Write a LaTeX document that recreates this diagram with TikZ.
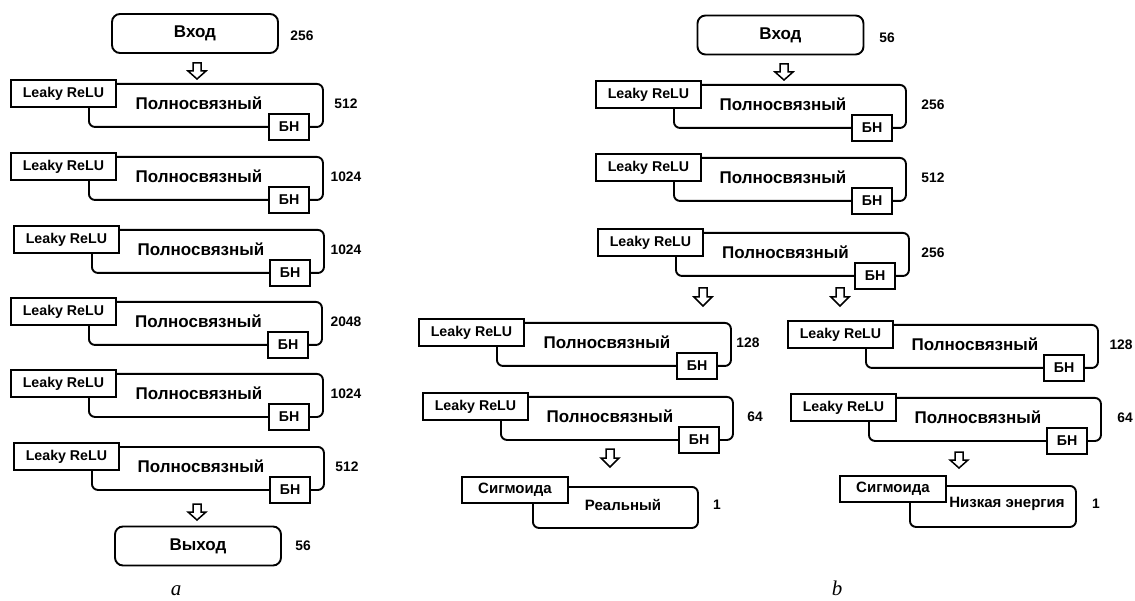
\documentclass[tikz,border=0pt]{standalone}
\usepackage{fontspec}
\setmainfont{Liberation Sans}
\newfontfamily\capserif{Liberation Serif}
\newcommand{\fsz}[1]{\fontsize{#1pt}{#1pt}\selectfont}
\tikzset{
  lw/.style={line width=1.9pt},
  mainbox/.style={draw, lw, rounded corners=6pt, inner sep=0pt, fill=white},
  iobox/.style={draw, lw, rounded corners=8pt, inner sep=0pt, fill=white,
    minimum width=166pt, minimum height=39pt, font=\bfseries\fsz{17}},
  tagbox/.style={draw, lw, fill=white, inner sep=0pt, minimum width=105pt,
    minimum height=27pt, font=\bfseries\fsz{14.2}},
  bnbox/.style={draw, lw, fill=white, inner sep=0pt, minimum width=40pt,
    minimum height=26pt, font=\bfseries\fsz{14.2}},
  maintext/.style={inner sep=0pt, font=\bfseries\fsz{17}},
  outtext/.style={inner sep=0pt, font=\bfseries\fsz{15}},
  numtext/.style={inner sep=0pt, font=\bfseries\fsz{13.8}},
  captext/.style={inner sep=0pt, font=\capserif\itshape\fsz{21}, anchor=base},
  arrowshape/.style={draw, line width=1.5pt, fill=white, line join=miter},
}
% block: name, L, T, R, text, number, number x
\newcommand{\fcblock}[7]{%
  \node[mainbox, minimum width={(#4)-(#2)-78}, minimum height=43, anchor=north west]
    (#1m) at ({#2+78},{#3+4}) {};
  \node[tagbox, anchor=north west] (#1t) at (#2,#3) {Leaky ReLU};
  \node[bnbox, anchor=north east] (#1b) at ({#4-12},{#3+34}) {БН};
  \node[maintext] (#1x) at ({(#2+78+#4-12)/2},{#3+24}) {#5};
  \node[numtext] (#1n) at (#7,{#3+25}) {#6};
}
% output block: name, L, T, R, main left offset, text, text x, number x
\newcommand{\sigblock}[8]{%
  \node[mainbox, minimum width={(#4)-(#2)-(#5)}, minimum height=41, anchor=north west]
    (#1m) at ({#2+#5},{#3+10}) {};
  \node[tagbox, minimum width=106pt, minimum height=26pt, font=\bfseries\fsz{15}, anchor=north west]
    (#1t) at (#2,#3) {Сигмоида};
  \node[outtext] (#1x) at (#7,{#3+29}) {#6};
  \node[numtext] (#1n) at (#8,{#3+29}) {1};
}
% hollow down arrow: x, y top, y bottom
\newcommand{\hollowarrow}[3]{%
  \draw[arrowshape] ({#1-4},#2) -- ({#1+4},#2) -- ({#1+4},{(#2+#3)/2})
    -- ({#1+9},{(#2+#3)/2}) -- (#1,#3) -- ({#1-9},{(#2+#3)/2})
    -- ({#1-4},{(#2+#3)/2}) -- cycle;
}
\begin{document}
\begin{tikzpicture}[x=1pt,y=-1pt]
\useasboundingbox (0,0) rectangle (1135,601);
% ---------- (a) ----------
\node[iobox] (ain) at (195,33.5) {Вход};
\node[numtext] (ainn) at (302,36) {256};
\hollowarrow{197}{63}{79}
\fcblock{a1}{10}{79}{322}{Полносвязный}{512}{346}
\fcblock{a2}{10}{152}{322}{Полносвязный}{1024}{346}
\fcblock{a3}{13}{225}{323}{Полносвязный}{1024}{346}
\fcblock{a4}{10}{297}{321}{Полносвязный}{2048}{346}
\fcblock{a5}{10}{369}{322}{Полносвязный}{1024}{346}
\fcblock{a6}{13}{442}{323}{Полносвязный}{512}{347}
\hollowarrow{197}{504}{520}
\node[iobox] (aout) at (198,546) {Выход};
\node[numtext] (aoutn) at (303,546) {56};
\node[captext] (capa) at (176,595) {a};
% ---------- (b) ----------
\node[iobox] (bin) at (780.5,35) {Вход};
\node[numtext] (binn) at (887,38) {56};
\hollowarrow{784}{64}{80}
\fcblock{b1}{595}{80}{905}{Полносвязный}{256}{933}
\fcblock{b2}{595}{153}{905}{Полносвязный}{512}{933}
\fcblock{b3}{597}{228}{908}{Полносвязный}{256}{933}
\hollowarrow{703}{288}{306}
\hollowarrow{840}{288}{306}
\fcblock{c1}{418}{318}{730}{Полносвязный}{128}{748}
\fcblock{c2}{422}{392}{732}{Полносвязный}{64}{755}
\hollowarrow{610}{449}{467}
\sigblock{c3}{461}{476}{697}{71}{Реальный}{623}{717}
\fcblock{d1}{787}{320}{1097}{Полносвязный}{128}{1121}
\fcblock{d2}{790}{393}{1100}{Полносвязный}{64}{1125}
\hollowarrow{959}{452}{468}
\sigblock{d3}{839}{475}{1075}{70}{Низкая энергия}{1007}{1096}
\node[captext] (capb) at (837,595) {b};
\end{tikzpicture}
\end{document}
